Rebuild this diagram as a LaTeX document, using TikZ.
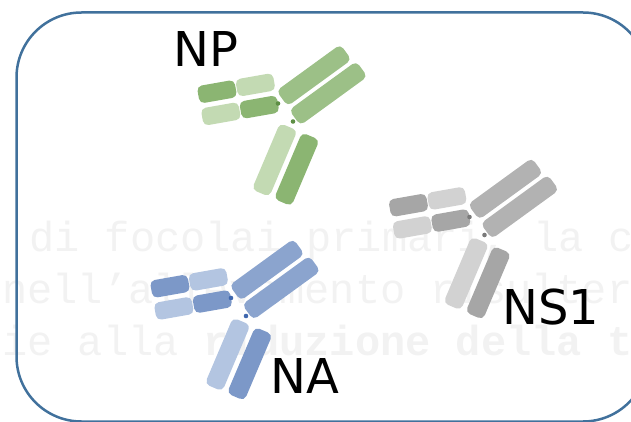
\documentclass[tikz,border=0pt]{standalone}
\usepackage{fontspec}
\setmainfont{DejaVu Sans}
\newfontfamily\wmfont{Liberation Mono}

% antibody palettes: arm, dark, light, dot
\definecolor{greenarm}{HTML}{9CC087}
\definecolor{greendark}{HTML}{8BB572}
\definecolor{greenlight}{HTML}{C3DAB3}
\definecolor{greendot}{HTML}{5E8F45}
\definecolor{grayarm}{HTML}{B2B2B2}
\definecolor{graydark}{HTML}{A6A6A6}
\definecolor{graylight}{HTML}{D2D2D2}
\definecolor{graydot}{HTML}{7A7A7A}
\definecolor{bluearm}{HTML}{8BA4CE}
\definecolor{bluedark}{HTML}{7C98C8}
\definecolor{bluelight}{HTML}{B3C5E1}
\definecolor{bluedot}{HTML}{3F67AE}
\definecolor{frameblue}{HTML}{41719C}
\definecolor{wmgray}{HTML}{F2F2F2}

\tikzset{
  abtext/.style={font=\fontsize{48}{48}\selectfont, text=black, inner sep=0pt, anchor=base west},
  watermark/.style={font=\wmfont\fontsize{42}{42}\selectfont, text=wmgray, inner sep=0pt, anchor=base west},
  chain/.style={rounded corners=5pt},
  % Y-shaped antibody; origin = lower end of the upper heavy arm
  pics/antibody/.style={code={
    % heavy-chain arms
    \fill[#1arm, chain, rotate=36] (0,-9.5) rectangle (79,9.5);
    \fill[#1arm, chain, shift={(12.7,19.2)}, rotate=36] (0,-9.5) rectangle (83,9.5);
    % light-chain blocks, two rows
    \fill[#1dark,  chain, shift={(-65,-6.8)},  rotate=10] (-19,-8.8) rectangle (19,8.8);
    \fill[#1light, chain, shift={(-26.6,-13.6)}, rotate=10] (-19,-8.8) rectangle (19,8.8);
    \fill[#1light, chain, shift={(-61.1,15.4)}, rotate=10] (-19,-8.8) rectangle (19,8.8);
    \fill[#1dark,  chain, shift={(-22.7,8.6)},  rotate=10] (-19,-8.8) rectangle (19,8.8);
    % stem
    \fill[#1light, chain, shift={(6.7,28.3)}, rotate=-113] (0,-9.5) rectangle (72,9.5);
    \fill[#1dark,  chain, shift={(28.8,37.7)}, rotate=-113] (0,-9.5) rectangle (72,9.5);
    % hinge dots
    \fill[#1dot] (-4,5) circle (2.3);
    \fill[#1dot] (11,23) circle (2.3);
  }}
}

\begin{document}
\begin{tikzpicture}[x=1pt, y=-1pt]
  \useasboundingbox (0,0) rectangle (631,422);
  \clip (0,0) rectangle (631,422);

  % faint background text
  \node[watermark] (wm1) at (29,251) {di focolai primari, la c};
  \node[watermark] (wm2) at (2,303) {nell’allevamento risulter};
  \node[watermark] (wm3) at (2,355) {ie alla \textbf{riduzione della t}};

  % frame
  \draw[frameblue, line width=2.5pt, rounded corners=65pt] (16.5,12.5) rectangle (648,421.5);

  % antibodies
  \pic (abnp) at (282,98.5) {antibody=green};
  \pic (abns) at (473.5,212) {antibody=gray};
  \pic (abna) at (235,293) {antibody=blue};

  % labels
  \node[abtext] (np) at (173,67) {NP};
  \node[abtext] (ns1) at (502,324) {NS1};
  \node[abtext] (na) at (270,393) {NA};
\end{tikzpicture}
\end{document}
